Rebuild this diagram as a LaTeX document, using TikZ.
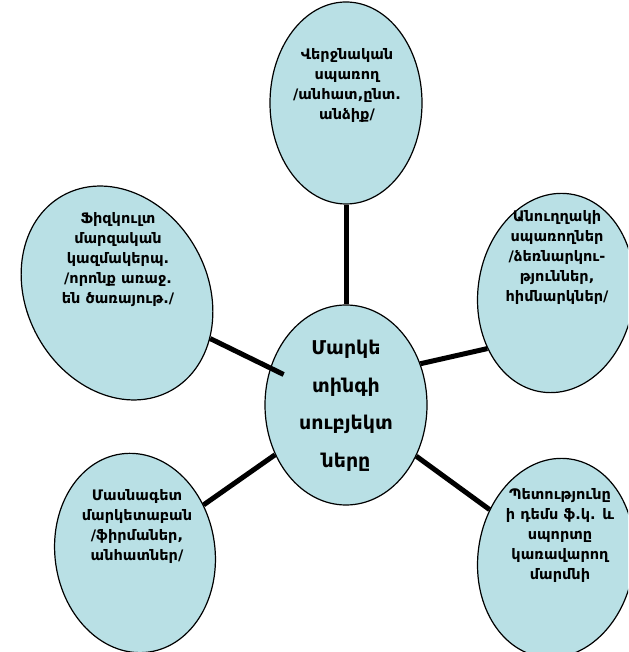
\documentclass[tikz,border=0pt]{standalone}
\usepackage{fontspec}
\setmainfont{DejaVu Sans}
\usetikzlibrary{shapes.geometric}
\definecolor{bub}{RGB}{185,224,229}
\tikzset{
  bubble/.style={ellipse, draw=black, line width=1.2pt, fill=bub, inner sep=0pt},
  lbl/.style={align=center, font=\bfseries\fontsize{14.5}{20}\selectfont, inner sep=0pt},
  biglbl/.style={align=center, font=\bfseries\fontsize{19}{37.5}\selectfont, inner sep=0pt},
  conn/.style={line width=5pt, draw=black}
}
\begin{document}
\begin{tikzpicture}[x=1pt,y=1pt]
\useasboundingbox (0,0) rectangle (628,652);
\clip (0,0) rectangle (628,652);
% ellipses
\node[bubble, minimum width=152pt, minimum height=202pt] (e1) at (346,549) {};
\node[bubble, minimum width=181pt, minimum height=223pt, rotate=29] (e2) at (117,359) {};
\node[bubble, minimum width=156pt, minimum height=200pt, rotate=-8] (e3) at (556,359) {};
\node[bubble, minimum width=162pt, minimum height=200pt] (e0) at (346,247) {};
\node[bubble, minimum width=160pt, minimum height=200pt, rotate=8] (e4) at (135,99) {};
\node[bubble, minimum width=156pt, minimum height=200pt, rotate=-8] (e5) at (556,94) {};
% connectors
\draw[conn] (e1) -- (e0);
\draw[conn, shorten >=-15pt] (e2) -- (e0);
\draw[conn] (e0.29) -- (e3.227);
\draw[conn] (e4) -- (e0);
\draw[conn] (e0) -- (e5);
% texts
\node[lbl] (t1) at (347,566) {Վերջնական\\սպառող\\/անհատ,ընտ.\\անձիք/};
\node[lbl] (t2) at (118,392) {Ֆիզկուլտ\\մարզական\\կազմակերպ.\\/որոնք առաջ.\\են ծառայութ./};
\node[lbl] (t3) at (557,394) {Անուղղակի\\սպառողներ\\/ձեռնարկու-\\թյուններ,\\հիմնարկներ/};
\node[biglbl] (t0) at (346,246) {Մարկե\\տինգի\\սուբյեկտ\\ները};
\node[lbl] (t4) at (137,125) {Մասնագետ\\մարկետաբան\\/ֆիրմաներ,\\անհատներ/};
\node[lbl] (t5) at (560,116) {Պետությունը\\ի դեմս ֆ.կ. և\\սպորտը\\կառավարող\\մարմնի};
\end{tikzpicture}
\end{document}
